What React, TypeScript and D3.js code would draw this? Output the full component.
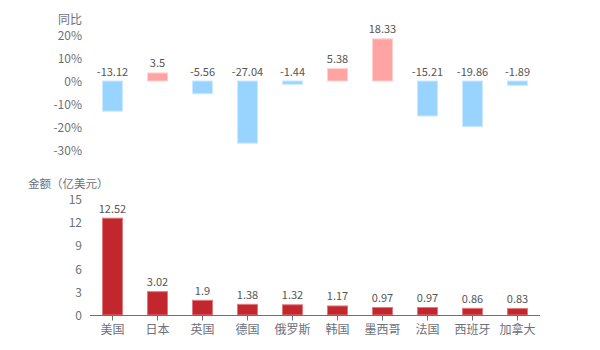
import React from "react";
import * as d3 from "d3";

const categories = ["美国", "日本", "英国", "德国", "俄罗斯", "韩国", "墨西哥", "法国", "西班牙", "加拿大"];
const yoyValues = [-13.12, 3.5, -5.56, -27.04, -1.44, 5.38, 18.33, -15.21, -19.86, -1.89];
const amountValues = [12.52, 3.02, 1.9, 1.38, 1.32, 1.17, 0.97, 0.97, 0.86, 0.83];
const yoyTicks = [20, 10, 0, -10, -20, -30];
const amountTicks = [0, 3, 6, 9, 12, 15];

const FONT = '"Noto Sans CJK SC", "Noto Sans", sans-serif';

export default function App() {
  const width = 600;
  const height = 350;
  const x = d3.scaleBand<string>().domain(categories).range([90, 540]);
  const bw = 20;
  const yTop = d3.scaleLinear().domain([-30, 20]).range([150, 35]);
  const yBot = d3.scaleLinear().domain([0, 15]).range([315, 199]);
  const tickColor = "#6e7079";
  const labelColor = "#555";

  return (
    <svg width={width} height={height} style={{ position: "absolute", left: 0, top: 0, fontFamily: FONT }}>
      <rect x={0} y={0} width={width} height={height} fill="#fff" />
      {/* top chart */}
      <text x={82} y={18} textAnchor="end" dominantBaseline="central" fontSize={12} fill={tickColor}>同比</text>
      {yoyTicks.map((t) => (
        <text key={t} x={82} y={yTop(t) - 0.5} textAnchor="end" dominantBaseline="central" fontSize={12} fill={tickColor}>
          {t + "%"}
        </text>
      ))}
      {categories.map((c, i) => {
        const v = yoyValues[i];
        const cx = (x(c) as number) + x.bandwidth() / 2;
        const y0 = yTop(0);
        const y1 = yTop(v);
        const pos = v >= 0;
        return (
          <g key={c}>
            <rect
              x={cx - bw / 2}
              y={Math.min(y0, y1)}
              width={bw}
              height={Math.abs(y1 - y0)}
              fill={pos ? "#ffa3a3" : "#99d3ff"}
              stroke={pos ? "#ffd0d0" : "#cbe9ff"}
              strokeWidth={1}
            />
            <text
              x={cx}
              y={(pos ? y1 : y0) - 10.5}
              textAnchor="middle"
              dominantBaseline="central"
              fontSize={11}
              fill={labelColor}
            >
              {String(v)}
            </text>
          </g>
        );
      })}

      {/* bottom chart */}
      <text x={28} y={183} textAnchor="start" dominantBaseline="central" fontSize={11.5} fill={tickColor}>金额（亿美元）</text>
      {amountTicks.map((t) => (
        <text key={t} x={82} y={yBot(t) - 0.5} textAnchor="end" dominantBaseline="central" fontSize={12} fill={tickColor}>
          {t}
        </text>
      ))}
      {categories.map((c, i) => {
        const v = amountValues[i];
        const cx = (x(c) as number) + x.bandwidth() / 2;
        const y1 = yBot(v);
        return (
          <g key={c}>
            <rect
              x={cx - bw / 2}
              y={y1}
              width={bw}
              height={yBot(0) - y1}
              fill="#c1272d"
              stroke="#e07a7e"
              strokeWidth={1}
            />
            <text x={cx} y={y1 - 10.5} textAnchor="middle" dominantBaseline="central" fontSize={11} fill={labelColor}>
              {String(v)}
            </text>
            <line x1={cx} x2={cx} y1={315.5} y2={320.5} stroke={tickColor} strokeWidth={1} />
            <text x={cx} y={328} textAnchor="middle" dominantBaseline="central" fontSize={12} fill={tickColor}>
              {c}
            </text>
          </g>
        );
      })}
      <line x1={90} x2={540} y1={315.5} y2={315.5} stroke={tickColor} strokeWidth={1} />
    </svg>
  );
}
